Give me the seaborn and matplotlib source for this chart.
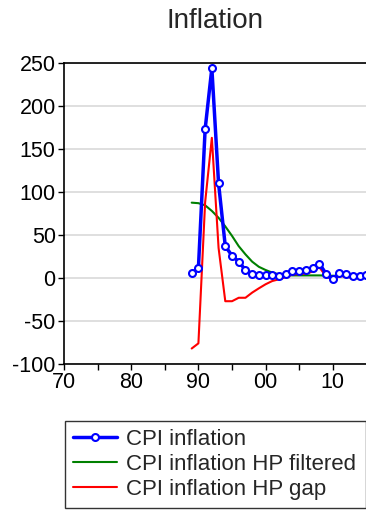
import numpy as np
import pandas as pd
import seaborn as sns
import matplotlib
matplotlib.use('Agg')
import matplotlib.pyplot as plt

# Datos
years = list(range(1989, 2016))
cpi_inflation = [5.5, 11.6, 173, 244, 110, 37, 26, 19, 9.3, 5, 3.5, 3.5, 3.5, 2.3,
                 5, 8, 8, 9, 12, 16.7, 5, -1.5, 6, 4.3, 2.3, 2.5, 3]
hp_filtered = [87.6, 87, 84.5, 78, 70, 60, 49, 37, 27.5, 19, 13, 9.3, 6.2, 4.3,
               3.5, 3, 3, 3, 3, 3, 2.8, 2.6, 2.4, 2.2, 2.0, 1.8, 1.6]
hp_gap = [-82, -76, 88, 163, 35, -27, -27, -23, -23, -17, -12, -7.3, -3.5, -1.5,
          1, 4, 4.5, 5, 7.5, 12.5, 2, -2.3, 2.5, 1.5, 0, 0, 0.5]
year_ticks = [1970, 1980, 1990, 2000, 2010]
year_labels = ['70', '80', '90', '00', '10']

df = pd.DataFrame({'year': years, 'cpi': cpi_inflation,
                   'trend': hp_filtered, 'gap': hp_gap})

sns.set_style('white')
plt.rcParams['font.family'] = ['Liberation Sans', 'DejaVu Sans']
plt.rcParams['axes.unicode_minus'] = False

fig = plt.figure(figsize=(3.66, 5.11), dpi=100)
ax = fig.add_axes([0.175, 0.2877, 0.826, 0.589])

ax.grid(axis='y', color='#d9d9d9', linewidth=1.2, zorder=0)
ax.set_axisbelow(True)

sns.lineplot(data=df, x='year', y='cpi', ax=ax, color='#0000ff', linewidth=2.5,
             marker='o', markersize=5, markerfacecolor='white',
             markeredgecolor='#0000ff', markeredgewidth=1.5,
             label='CPI inflation', zorder=3)
sns.lineplot(data=df, x='year', y='trend', ax=ax, color='#008000', linewidth=1.5,
             label='CPI inflation HP filtered', zorder=2)
sns.lineplot(data=df, x='year', y='gap', ax=ax, color='#ff0000', linewidth=1.5,
             label='CPI inflation HP gap', zorder=2)

ax.set_xlim(1970, 2015)
ax.set_ylim(-100, 250)
ax.set_yticks(np.arange(-100, 251, 50))
ax.set_xticks(year_ticks)
ax.set_xticklabels(year_labels)
ax.set_xticks(np.arange(1975, 2015, 10), minor=True)
ax.tick_params(axis='both', which='both', direction='out', length=4, width=1,
               labelsize=15.5, colors='black', left=True, bottom=True, pad=2)
ax.set_xlabel('')
ax.set_ylabel('')
for side in ['left', 'bottom', 'top']:
    ax.spines[side].set_color('black')
    ax.spines[side].set_linewidth(1.2)
ax.spines['right'].set_visible(False)

ax.set_title('Inflation', fontsize=20, pad=25)

handles, labels = ax.get_legend_handles_labels()
ax.get_legend().remove()
leg = fig.legend(handles, labels, loc='upper left',
                 bbox_to_anchor=(0.178, 0.176, 0.822, 0.0), mode='expand',
                 fontsize=16, frameon=True, fancybox=False, handlelength=2,
                 borderaxespad=0, labelspacing=0.18, handletextpad=0.4,
                 borderpad=0.35)
leg.get_frame().set_edgecolor('black')
leg.get_frame().set_linewidth(1)

fig.savefig('out.png', dpi=100)
